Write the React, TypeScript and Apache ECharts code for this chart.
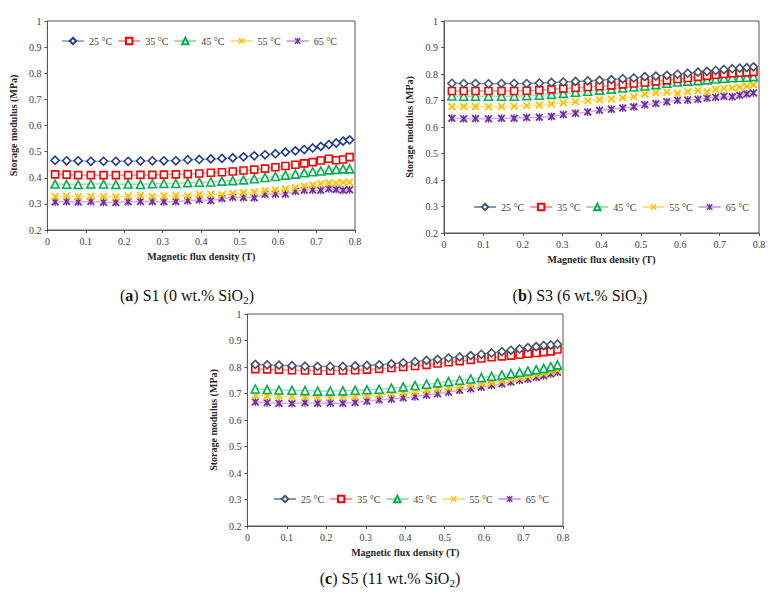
import React, { useEffect, useRef } from "react";
import * as echarts from "echarts";

const SERIF = "Liberation Serif, Times New Roman, serif";

// Magnetic flux density (T) sample points
const fluxDensity = [0.02, 0.05, 0.08, 0.113, 0.146, 0.178, 0.21, 0.242, 0.273, 0.303, 0.334, 0.365, 0.395, 0.425, 0.454, 0.482, 0.51, 0.538, 0.566, 0.593, 0.619, 0.645, 0.668, 0.69, 0.711, 0.732, 0.751, 0.769, 0.786];
const temperatures = ["25 °C", "35 °C", "45 °C", "55 °C", "65 °C"];
const xTicks = ["0", "0.1", "0.2", "0.3", "0.4", "0.5", "0.6", "0.7", "0.8"];

// (a) S1 (0 wt.% SiO2)
const s1_25 = [0.467, 0.465, 0.465, 0.463, 0.463, 0.463, 0.463, 0.464, 0.465, 0.465, 0.465, 0.469, 0.47, 0.472, 0.474, 0.476, 0.48, 0.484, 0.488, 0.492, 0.498, 0.503, 0.508, 0.514, 0.52, 0.527, 0.533, 0.54, 0.545];
const s1_35 = [0.413, 0.412, 0.41, 0.41, 0.41, 0.41, 0.41, 0.411, 0.411, 0.412, 0.413, 0.414, 0.416, 0.419, 0.421, 0.424, 0.428, 0.431, 0.435, 0.44, 0.445, 0.45, 0.455, 0.46, 0.466, 0.473, 0.467, 0.47, 0.479];
const s1_45 = [0.376, 0.375, 0.374, 0.376, 0.376, 0.374, 0.376, 0.374, 0.377, 0.378, 0.378, 0.381, 0.383, 0.384, 0.387, 0.389, 0.392, 0.396, 0.401, 0.405, 0.41, 0.414, 0.419, 0.423, 0.426, 0.43, 0.432, 0.434, 0.434];
const s1_55 = [0.328, 0.33, 0.327, 0.328, 0.328, 0.326, 0.33, 0.332, 0.328, 0.33, 0.332, 0.33, 0.336, 0.338, 0.335, 0.34, 0.343, 0.345, 0.35, 0.353, 0.357, 0.362, 0.368, 0.372, 0.377, 0.381, 0.38, 0.382, 0.383];
const s1_65 = [0.307, 0.309, 0.307, 0.309, 0.306, 0.305, 0.308, 0.309, 0.309, 0.308, 0.309, 0.312, 0.316, 0.313, 0.321, 0.325, 0.324, 0.323, 0.337, 0.338, 0.338, 0.348, 0.352, 0.353, 0.352, 0.358, 0.355, 0.352, 0.354];

// (b) S3 (6 wt.% SiO2)
const s3_25 = [0.765, 0.764, 0.764, 0.763, 0.764, 0.764, 0.764, 0.766, 0.768, 0.77, 0.772, 0.774, 0.776, 0.779, 0.782, 0.785, 0.79, 0.792, 0.795, 0.799, 0.803, 0.807, 0.81, 0.813, 0.817, 0.82, 0.822, 0.824, 0.827];
const s3_35 = [0.736, 0.736, 0.736, 0.736, 0.736, 0.736, 0.737, 0.739, 0.742, 0.745, 0.748, 0.751, 0.754, 0.757, 0.761, 0.764, 0.768, 0.772, 0.776, 0.781, 0.785, 0.789, 0.793, 0.797, 0.8, 0.803, 0.805, 0.806, 0.808];
const s3_45 = [0.717, 0.716, 0.716, 0.716, 0.716, 0.716, 0.718, 0.72, 0.723, 0.727, 0.731, 0.735, 0.739, 0.743, 0.747, 0.751, 0.755, 0.76, 0.765, 0.77, 0.773, 0.775, 0.778, 0.781, 0.784, 0.786, 0.787, 0.788, 0.79];
const s3_55 = [0.677, 0.677, 0.677, 0.676, 0.677, 0.678, 0.68, 0.683, 0.687, 0.691, 0.695, 0.699, 0.703, 0.706, 0.71, 0.714, 0.724, 0.729, 0.731, 0.727, 0.733, 0.738, 0.733, 0.742, 0.745, 0.747, 0.75, 0.754, 0.759];
const s3_65 = [0.633, 0.631, 0.632, 0.631, 0.633, 0.633, 0.636, 0.637, 0.64, 0.647, 0.652, 0.657, 0.663, 0.667, 0.672, 0.676, 0.684, 0.689, 0.695, 0.701, 0.702, 0.705, 0.709, 0.712, 0.716, 0.714, 0.72, 0.725, 0.728];

// (c) S5 (11 wt.% SiO2)
const s5_25 = [0.81, 0.808, 0.807, 0.805, 0.803, 0.802, 0.802, 0.802, 0.804, 0.806, 0.808, 0.812, 0.816, 0.82, 0.825, 0.829, 0.834, 0.838, 0.843, 0.848, 0.853, 0.858, 0.863, 0.868, 0.873, 0.877, 0.881, 0.883, 0.886];
const s5_35 = [0.792, 0.791, 0.79, 0.788, 0.787, 0.786, 0.786, 0.787, 0.788, 0.79, 0.793, 0.796, 0.8, 0.804, 0.808, 0.813, 0.818, 0.822, 0.827, 0.832, 0.837, 0.84, 0.843, 0.846, 0.85, 0.853, 0.856, 0.859, 0.866];
const s5_45 = [0.717, 0.715, 0.713, 0.712, 0.711, 0.709, 0.709, 0.71, 0.712, 0.714, 0.716, 0.72, 0.725, 0.73, 0.735, 0.74, 0.745, 0.75, 0.755, 0.76, 0.765, 0.77, 0.775, 0.78, 0.785, 0.79, 0.795, 0.801, 0.808];
const s5_55 = [0.692, 0.691, 0.69, 0.689, 0.688, 0.687, 0.687, 0.688, 0.69, 0.692, 0.695, 0.698, 0.702, 0.706, 0.71, 0.715, 0.72, 0.725, 0.73, 0.735, 0.74, 0.746, 0.752, 0.758, 0.764, 0.77, 0.776, 0.782, 0.788];
const s5_65 = [0.668, 0.665, 0.663, 0.662, 0.665, 0.663, 0.664, 0.663, 0.666, 0.671, 0.676, 0.679, 0.684, 0.688, 0.694, 0.699, 0.705, 0.712, 0.718, 0.724, 0.731, 0.737, 0.743, 0.75, 0.755, 0.761, 0.767, 0.774, 0.78];

const X_PATH = "path://M0,1.6 L1.6,0 L5,3.4 L8.4,0 L10,1.6 L6.6,5 L10,8.4 L8.4,10 L5,6.6 L1.6,10 L0,8.4 L3.4,5 Z";
const STAR_PATH = "path://M0,1.6 L1.6,0 L5,3.4 L8.4,0 L10,1.6 L6.6,5 L10,8.4 L8.4,10 L5,6.6 L1.6,10 L0,8.4 L3.4,5 Z M4.2,0 L5.8,0 L5.8,10 L4.2,10 Z";

type PanelProps = {
  left: number; top: number; width: number; height: number;
  grid: { left: number; top: number; width: number; height: number };
  legend: { left: number; top: number };
  caption: { x: number; y: number; letter: string; rest: string };
  values: number[][];
  firstColor: string;
  firstLine: string;
};

function Panel(p: PanelProps) {
  const ref = useRef<HTMLDivElement>(null);
  useEffect(() => {
    if (!ref.current) return;
    const chart = echarts.init(ref.current, null, { renderer: "svg" });
    const styles = [
      { symbol: "diamond", size: 8, color: p.firstColor, line: p.firstLine, hollow: true },
      { symbol: "rect", size: 7, color: "#FF0000", line: "#FF9999", hollow: true },
      { symbol: "triangle", size: 8, color: "#00B050", line: "#A9DDB0", hollow: true },
      { symbol: X_PATH, size: 8, color: "#FFC000", line: "#FFE08A", hollow: false },
      { symbol: STAR_PATH, size: 8, color: "#7030A0", line: "#D9A8F0", hollow: false },
    ];
    const series = temperatures.map((name, k) => {
      const st = styles[k];
      return {
        type: "line",
        name,
        data: fluxDensity.map((x, i) => [x, p.values[k][i]]),
        symbol: st.symbol,
        symbolSize: st.size,
        showAllSymbol: true,
        z: 10 - k,
        itemStyle: st.hollow
          ? { color: "#ffffff", borderColor: st.color, borderWidth: 1.6 }
          : { color: st.color, borderWidth: 0 },
        lineStyle: { color: st.line, width: 1.5 },
        emphasis: { disabled: true },
      };
    });
    const axisColor = "#595959";
    chart.setOption({
      animation: false,
      textStyle: { fontFamily: SERIF },
      grid: { ...p.grid, show: true, borderColor: axisColor, borderWidth: 1, backgroundColor: "transparent" },
      xAxis: {
        type: "value", min: 0, max: 0.8, interval: 0.1,
        name: "Magnetic flux density (T)", nameLocation: "middle", nameGap: 21,
        nameTextStyle: { fontFamily: SERIF, fontWeight: "bold", fontSize: 10, color: "#262626" },
        axisLine: { show: true, lineStyle: { color: axisColor, width: 1 } },
        axisTick: { show: true, inside: false, length: 3, lineStyle: { color: axisColor } },
        axisLabel: { fontFamily: SERIF, fontSize: 10, color: "#404040", margin: 6, formatter: (v: number) => xTicks[Math.round(v * 10)] ?? String(v) },
        splitLine: { show: false },
      },
      yAxis: {
        type: "value", min: 0.2, max: 1, interval: 0.1,
        name: "Storage modulus (MPa)", nameLocation: "middle", nameGap: 21,
        nameTextStyle: { fontFamily: SERIF, fontWeight: "bold", fontSize: 10, color: "#262626" },
        axisLine: { show: true, lineStyle: { color: axisColor, width: 1 } },
        axisTick: { show: true, inside: false, length: 3, lineStyle: { color: axisColor } },
        axisLabel: { fontFamily: SERIF, fontSize: 10, color: "#404040", margin: 6 },
        splitLine: { show: false },
      },
      legend: {
        left: p.legend.left, top: p.legend.top, width: 340, orient: "horizontal",
        itemWidth: 22, itemHeight: 8, itemGap: 5,
        selectedMode: false,
        textStyle: { fontFamily: SERIF, fontSize: 10, color: "#404040" },
        data: temperatures,
      },
      graphic: [
        {
          type: "text", x: p.caption.x, y: p.caption.y,
          style: {
            text: `{n|(}{b|${p.caption.letter}}{n|) ${p.caption.rest}}{s|2}{n|)}`,
            textAlign: "center", textVerticalAlign: "middle",
            fill: "#111",
            rich: {
              n: { fontFamily: SERIF, fontSize: 16, fill: "#111", lineHeight: 20, verticalAlign: "middle" },
              b: { fontFamily: SERIF, fontSize: 16, fontWeight: "bold", fill: "#111", lineHeight: 20, verticalAlign: "middle" },
              s: { fontFamily: SERIF, fontSize: 11, fill: "#111", lineHeight: 20, verticalAlign: "bottom" },
            },
          },
        },
      ],
      series,
    });
    return () => chart.dispose();
  }, []);
  return <div ref={ref} style={{ position: "absolute", left: p.left, top: p.top, width: p.width, height: p.height }} />;
}

export default function App() {
  return (
    <div style={{ position: "absolute", left: 0, top: 0, width: 774, height: 597, background: "#fff" }}>
      <Panel
        left={0} top={0} width={390} height={310}
        grid={{ left: 45, top: 21, width: 310, height: 209 }}
        legend={{ left: 56, top: 31 }}
        caption={{ x: 187, y: 295, letter: "a", rest: "S1 (0 wt.% SiO" }}
        values={[s1_25, s1_35, s1_45, s1_55, s1_65]}
        firstColor="#1F3C88" firstLine="#9DB0D8"
      />
      <Panel
        left={390} top={0} width={384} height={310}
        grid={{ left: 54, top: 21, width: 315, height: 212 }}
        legend={{ left: 78, top: 197 }}
        caption={{ x: 190, y: 295, letter: "b", rest: "S3 (6 wt.% SiO" }}
        values={[s3_25, s3_35, s3_45, s3_55, s3_65]}
        firstColor="#44546A" firstLine="#8497B0"
      />
      <Panel
        left={200} top={305} width={380} height={292}
        grid={{ left: 46, top: 9, width: 317, height: 212 }}
        legend={{ left: 68, top: 184 }}
        caption={{ x: 190, y: 273, letter: "c", rest: "S5 (11 wt.% SiO" }}
        values={[s5_25, s5_35, s5_45, s5_55, s5_65]}
        firstColor="#44546A" firstLine="#8497B0"
      />
    </div>
  );
}
